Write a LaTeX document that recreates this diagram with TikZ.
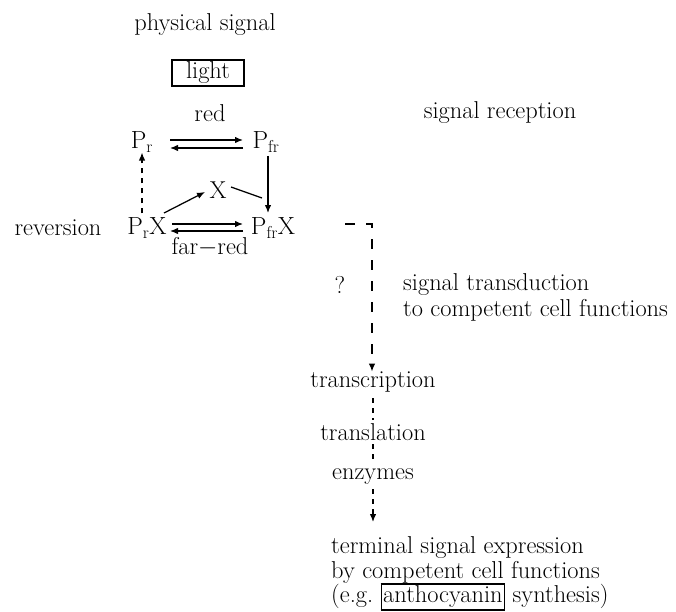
\documentclass[tikz,border=0pt]{standalone}
\usetikzlibrary{arrows.meta}
\begin{document}
\begin{tikzpicture}[x=1bp,y=-1bp,
  txt/.style={inner sep=0pt,font=\fontsize{24.5}{24}\selectfont},
  ln/.style={line width=1.25bp},
  arr/.style={ln,-{Latex[length=8bp,width=6.5bp]}},
  dsh/.style={ln,dash pattern=on 10bp off 11bp},
  sdsh/.style={ln,dash pattern=on 5bp off 5bp}]
\useasboundingbox (0,0) rectangle (676,612);
% texts
\node[txt] (phys) at (205,25) {physical signal};
\node[txt,draw,line width=1.25bp,minimum width=72bp,minimum height=26bp] (light) at (208,73) {light};
\node[txt] (red) at (210,113) {red};
\node[txt] (recep) at (500,113) {signal reception};
\node[txt] (Pr) at (142,142) {$\mathrm{P_r}$};
\node[txt] (Pfr) at (266,142) {$\mathrm{P_{fr}}$};
\node[txt] (X) at (218,190) {X};
\node[txt] (PrX) at (147,228) {$\mathrm{P_rX}$};
\node[txt] (PfrX) at (273,228) {$\mathrm{P_{fr}X}$};
\node[txt] (rev) at (58,228) {reversion};
\node[txt] (far) at (210,247) {far$-$red};
\node[txt] (q) at (340,285) {?};
\node[txt,anchor=west] (trans1) at (403,285) {signal transduction};
\node[txt,anchor=west] (trans2) at (403,310) {to competent cell functions};
\node[txt] (tscr) at (373,382) {transcription};
\node[txt] (tsl) at (373,432) {translation};
\node[txt] (enz) at (373,477) {enzymes};
\node[txt,anchor=west] (term1) at (331,548) {terminal signal expression};
\node[txt,anchor=west] (term2) at (331,572) {by competent cell functions};
\node[txt,anchor=west] (term3) at (331,597) {(e.g.\ {\fboxsep=1.5pt\fboxrule=1.2bp\fbox{anthocyanin}} synthesis)};
% coordinates
\coordinate (t1) at (170,140); \coordinate (t2) at (243,140);
\coordinate (t3) at (243,148); \coordinate (t4) at (170,148);
\coordinate (b1) at (172,224); \coordinate (b2) at (243,224);
\coordinate (b3) at (243,231); \coordinate (b4) at (170,231);
\coordinate (d0) at (345,224); \coordinate (d1) at (372,224);
% arrows
\draw[arr] (t1) -- (t2);
\draw[arr] (t3) -- (t4);
\draw[arr] (b1) -- (b2);
\draw[arr] (b3) -- (b4);
\draw[arr,sdsh] (PrX.north -| Pr) ++(0,-4) -- (Pr.south);
\draw[arr] (268,156) -- (268,213);
\draw[arr] (164,213) -- (205,192);
\draw[ln] (231,187) -- (262,198);
\draw[arr,dsh] (d0) -- (d1) -- (tscr.north -| d1);
\draw[sdsh] (373,398) -- (373,420);
\draw[sdsh] (373,444) -- (373,464);
\draw[arr,sdsh] (enz.south) ++(0,4) -- (373,522);
\end{tikzpicture}
\end{document}
